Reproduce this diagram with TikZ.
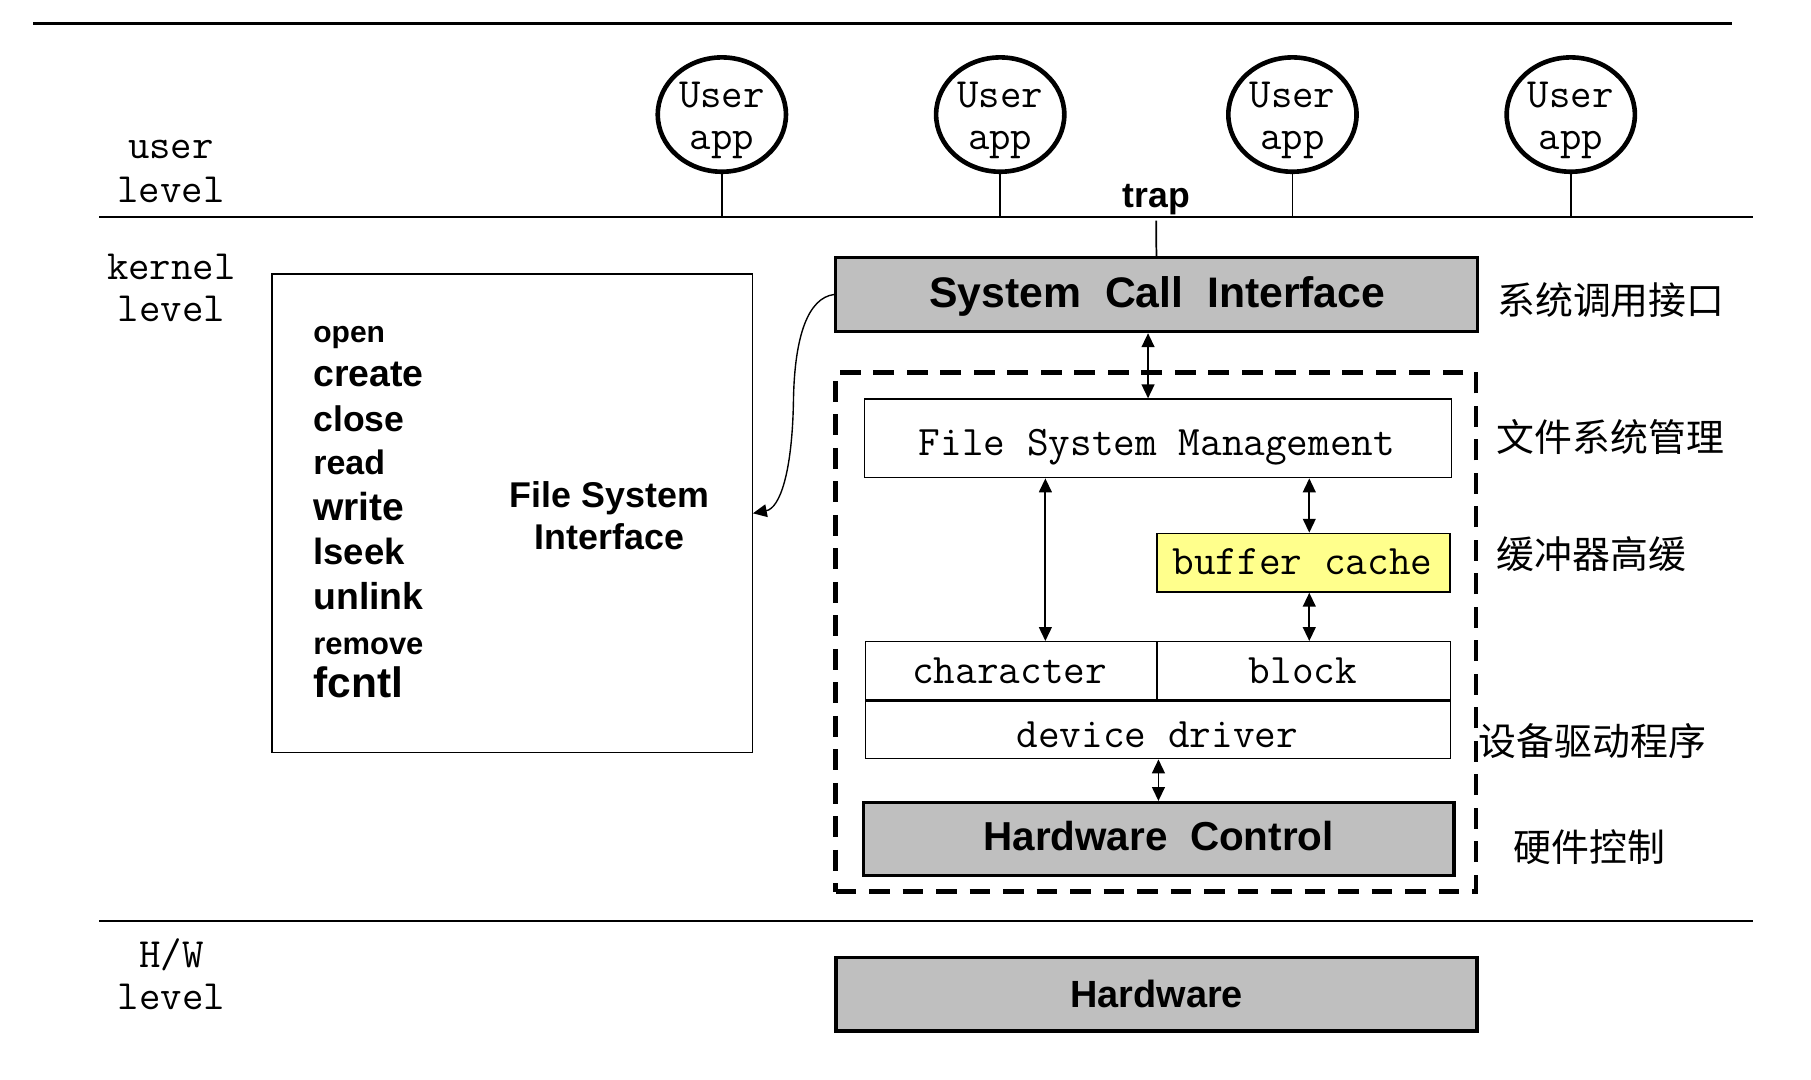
\documentclass[tikz,border=0pt]{standalone}
\usepackage{fontspec}
\newfontfamily\hv{Liberation Sans}
\newfontfamily\cjk{Noto Sans CJK SC}
\usetikzlibrary{arrows.meta,shapes.geometric,fit}
\definecolor{boxgray}{RGB}{191,191,191}
\definecolor{bufyellow}{RGB}{255,255,140}
\begin{document}
\begin{tikzpicture}[x=0.5pt,y=-0.5pt,
  mono/.style={font=\ttfamily\fontsize{18.2pt}{18.4pt}\selectfont, inner sep=0pt, align=center},
  hvb/.style={inner sep=0pt, font=\hv\bfseries#1},
  hvb/.default={},
  cjkl/.style={inner sep=0pt, anchor=west, font=\cjk\fontsize{16.4pt}{18pt}\selectfont},
  thinbox/.style={draw, line width=0.6pt, inner sep=0pt},
  graybox/.style={draw, line width=1.5pt, fill=boxgray, inner sep=0pt},
  dashbox/.style={draw, line width=2pt, dash pattern=on 9pt off 5.5pt, inner sep=0pt},
  appcirc/.style={ellipse, draw, line width=2pt, minimum width=55.5pt, minimum height=49.5pt, inner sep=0pt},
  dbl/.style={{Triangle[length=6pt,width=5.5pt]}-{Triangle[length=6pt,width=5.5pt]}, line width=0.8pt},
  curv/.style={-{Triangle[length=6pt,width=5.5pt]}, line width=0.6pt},
  stemline/.style={line width=0.75pt},
  levelline/.style={line width=0.9pt},
]
\useasboundingbox (0,0) rectangle (1568,935);

% level separator lines
\coordinate (topL) at (28.7,20.2); \coordinate (topR) at (1500,20.2);
\draw[line width=1.1pt] (topL) -- (topR);
\coordinate (uL) at (86,187.6); \coordinate (uR) at (1518,187.6);
\draw[levelline] (uL) -- (uR);
\coordinate (hL) at (86,797.8); \coordinate (hR) at (1518,797.8);
\draw[levelline] (hL) -- (hR);

% level labels
\node[mono, font=\ttfamily\fontsize{18pt}{19.2pt}\selectfont] (ulev) at (148,148.3) {user\\level};
\node[mono, font=\ttfamily\fontsize{18pt}{18.4pt}\selectfont] (klev) at (148.4,249.5) {kernel\\level};
\node[mono, font=\ttfamily\fontsize{18pt}{18.4pt}\selectfont] (hlev) at (148.4,843.5) {H/W\\level};

% user apps
\foreach \i/\x in {1/625,2/866,3/1119,4/1360}{
  \node[appcirc] (a\i) at (\x,99.2) {};
  \node[mono, font=\ttfamily\fontsize{18pt}{18.05pt}\selectfont] (t\i) at ([yshift=-2.5pt]a\i.center) {User\\app};
  \draw[stemline] (a\i.south) -- (a\i.south |- uL);
}

% system call interface
\node[graybox, fit={(723.5,223)(1279,287)}] (sci) {};
\node[hvb=\fontsize{18.5pt}{20pt}\selectfont, anchor=base] (sciT) at (1002,266.6) {System\ \ Call\ \ Interface};
\node[hvb=\fontsize{15.4pt}{16pt}\selectfont, anchor=base] (trap) at (1001,180) {trap};
\coordinate (trapTop) at (1001,191);
\draw[stemline] (trapTop) -- (sci.north);

% kernel dashed region
\node[dashbox, fit={(723.5,322.4)(1278,772)}] (kern) {};

% file system management
\node[thinbox, fit={(748.7,345.5)(1256.7,413.6)}] (fsm) {};
\node[mono, anchor=base] (fsmT) at (1001.8,394.5) {File System Management};

% buffer cache
\node[thinbox, fill=bufyellow, fit={(1001.7,461.8)(1255.4,512.6)}] (buf) {};
\node[mono, anchor=base] (bufT) at (1127.8,497.5) {buffer cache};

% character / block / device driver
\node[thinbox, fit={(749.4,555.6)(1001.7,606)}] (chr) {};
\node[mono, anchor=base] (chrT) at (874.2,591.5) {character};
\node[thinbox, fit={(1001.7,555.6)(1255.8,606)}] (blk) {};
\node[mono, anchor=base] (blkT) at (1128.2,591.5) {block};
\node[thinbox, fit={(749.4,607.5)(1256,656.9)}] (dd) {};
\node[mono, anchor=base] (ddT) at (1002,647) {device driver};

% hardware control
\node[graybox, fit={(747.5,695)(1258.8,757.9)}] (hwc) {};
\node[hvb=\fontsize{17.5pt}{20pt}\selectfont, anchor=base] (hwcT) at (1003.1,736.5) {Hardware\ \ Control};

% hardware
\node[graybox, fit={(723.8,828.8)(1278.8,892.7)}] (hw) {};
\node[hvb=\fontsize{16.4pt}{18pt}\selectfont, anchor=base] (hwT) at (1001.5,872) {Hardware};

% arrows
\coordinate (x1) at (994,0);
\coordinate (x2) at (905.1,0);
\coordinate (x3) at (1133.6,0);
\coordinate (x4) at (1003,0);
\draw[dbl] (sci.south -| x1) -- (fsm.north -| x1);
\draw[dbl] (fsm.south -| x2) -- (chr.north -| x2);
\draw[dbl] (fsm.south -| x3) -- (buf.north -| x3);
\draw[dbl] (buf.south -| x3) -- (blk.north -| x3);
\draw[dbl] (dd.south -| x4) -- (hwc.north -| x4);

% file system interface
\node[thinbox, fit={(235.4,237.2)(651.3,651.7)}] (fsi) {};
\node[hvb=\fontsize{13pt}{14pt}\selectfont, anchor=base west] (l1) at (270.9,296.5) {open};
\node[hvb=\fontsize{16.2pt}{17pt}\selectfont, anchor=base west] (l2) at (270.9,334.9) {create};
\node[hvb=\fontsize{15.4pt}{16pt}\selectfont, anchor=base west] (l3) at (270.9,373.6) {close};
\node[hvb=\fontsize{14.7pt}{16pt}\selectfont, anchor=base west] (l4) at (270.9,411.1) {read};
\node[hvb=\fontsize{16.9pt}{18pt}\selectfont, anchor=base west] (l5) at (270.9,450.3) {write};
\node[hvb=\fontsize{15.8pt}{17pt}\selectfont, anchor=base west] (l6) at (270.9,489.1) {lseek};
\node[hvb=\fontsize{16.2pt}{17pt}\selectfont, anchor=base west] (l7) at (270.9,527.4) {unlink};
\node[hvb=\fontsize{13.4pt}{14pt}\selectfont, anchor=base west] (l8) at (270.9,566.3) {remove};
\node[hvb=\fontsize{18.4pt}{19pt}\selectfont, anchor=base west] (l9) at (270.9,603.9) {fcntl};
\node[hvb=\fontsize{15.5pt}{18.3pt}\selectfont, align=center] (fsiT) at (527.7,446.3) {File System\\Interface};

\draw[curv] (sci.west) .. controls (700,258) and (688,290) .. (687,346) .. controls (686,410) and (675,440) .. (fsi.east);

% Chinese labels
\node[cjkl] (c1) at (1296,259.9) {系统调用接口};
\node[cjkl] (c2) at (1295.6,378.4) {文件系统管理};
\node[cjkl] (c3) at (1295.6,479.5) {缓冲器高缓};
\node[cjkl] (c4) at (1280,642) {设备驱动程序};
\node[cjkl] (c5) at (1310.4,733.5) {硬件控制};
\end{tikzpicture}
\end{document}
